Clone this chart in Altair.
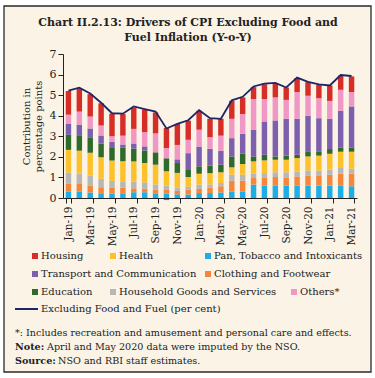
import altair as alt
import pandas as pd

months = ["Jan-19", "Feb-19", "Mar-19", "Apr-19", "May-19", "Jun-19", "Jul-19", "Aug-19", "Sep-19",
          "Oct-19", "Nov-19", "Dec-19", "Jan-20", "Feb-20", "Mar-20", "Apr-20", "May-20", "Jun-20",
          "Jul-20", "Aug-20", "Sep-20", "Oct-20", "Nov-20", "Dec-20", "Jan-21", "Feb-21", "Mar-21"]

pan = [.32, .32, .27, .23, .22, .23, .28, .28, .23, .22, .18, .17, .24, .24, .27, .32, .32, .65, .61, .61, .61, .61, .60, .60, .60, .61, .57]
clothing = [.39, .39, .34, .29, .27, .28, .19, .17, .17, .20, .17, .23, .20, .26, .30, .52, .52, .32, .39, .41, .39, .44, .50, .50, .53, .57, .61]
household = [.53, .48, .49, .41, .34, .30, .32, .31, .26, .18, .15, .15, .21, .16, .16, .29, .29, .21, .21, .23, .25, .24, .24, .23, .25, .28, .24]
health = [1.10, 1.11, 1.10, 1.05, .99, .98, .99, .94, .96, .70, .72, .47, .53, .55, .52, .36, .52, .60, .62, .61, .61, .65, .68, .73, .77, .79, .83]
education = [.73, .75, .72, .67, .65, .67, .62, .61, .60, .63, .48, .38, .36, .36, .37, .53, .50, .24, .27, .16, .20, .16, .25, .21, .23, .21, .21]
transport = [.53, .52, .46, .39, .27, .14, .25, .20, .0, -.10, .18, .78, .96, .82, .68, .89, .97, 1.30, 1.62, 1.75, 1.79, 1.75, 1.73, 1.61, 1.47, 1.78, 1.99]
others = [.45, .63, .58, .49, .26, .43, .71, .69, .92, .50, .70, .65, .82, .57, .73, .94, .96, 1.49, 1.09, 1.12, .92, 1.30, .97, .97, .87, 1.02, .70]
housing = [1.15, 1.13, 1.09, 1.07, 1.10, 1.05, 1.04, 1.10, 1.02, .97, 1.02, .93, .92, .89, .82, .87, .81, .58, .72, .69, .60, .68, .66, .65, .75, .69, .76]
core = [5.22, 5.36, 5.08, 4.63, 4.12, 4.10, 4.45, 4.32, 4.20, 3.38, 3.60, 3.78, 4.27, 3.88, 3.85, 4.75, 4.92, 5.42, 5.56, 5.60, 5.37, 5.85, 5.65, 5.52, 5.47, 5.98, 5.93]

series_names = ["Pan, Tobacco and Intoxicants", "Clothing and Footwear", "Household Goods and Services",
                "Health", "Education", "Transport and Communication", "Others*", "Housing"]
series_values = [pan, clothing, household, health, education, transport, others, housing]
series_colors = ["#1DAEE5", "#F5863A", "#B7B7B7", "#FDC12A", "#2E6A2C", "#7C60AD", "#F197C5", "#D62D27"]
line_name = "Excluding Food and Fuel (per cent)"
title_lines = ["Chart II.2.13: Drivers of CPI Excluding Food and", "Fuel Inflation (Y-o-Y)"]
y_title = ["Contribution in", "percentage points"]
y_ticks = [0, 1, 2, 3, 4, 5, 6, 7]
note_lines = [("*: Includes recreation and amusement and personal care and effects.", ""),
              ("Note:", " April and May 2020 data were imputed by the NSO."),
              ("Source:", " NSO and RBI staff estimates.")]

FONT = "DejaVu Serif"
BG = "#FAF3E6"
NAVY = "#1F2565"

rows = []
for i, m in enumerate(months):
    for k, (name, vals) in enumerate(zip(series_names, series_values)):
        rows.append({"month": m, "cat": name, "val": vals[i], "ord": k})
df = pd.DataFrame(rows)
line_df = pd.DataFrame({"month": months, "core": core})

one = alt.Data(values=[{"a": 1}])

# frame (plot origin at page (63, 54))
frame = alt.Chart(one).mark_rect(fill=BG, stroke="#2a2a2a", strokeWidth=1.3).encode(
    x=alt.value(-59), x2=alt.value(308), y=alt.value(-48), y2=alt.value(318))

layers = [frame]

for j, t in enumerate(title_lines):
    layers.append(alt.Chart(one).mark_text(text=t, font=FONT, fontSize=11, fontWeight="bold",
                                           color="#222", baseline="middle", align="center").encode(
        x=alt.value(125), y=alt.value(-31 + j * 14.5)))

x_axis = alt.Axis(values=months[::2], labelAngle=270, tickBand="extent", title=None,
                  labelFont=FONT, labelFontSize=10.5, labelColor="#222", labelPadding=3,
                  tickSize=5, tickColor="#222", domainColor="#222", grid=False, zindex=2,
                  labelOverlap=False)
y_axis = alt.Axis(values=y_ticks, title=y_title, titleFont=FONT, titleFontSize=10,
                  titleFontWeight="normal", titleColor="#222", titleLineHeight=12, titlePadding=6,
                  labelFont=FONT, labelFontSize=11, labelColor="#222", labelPadding=2,
                  tickSize=5, tickColor="#222", domainColor="#222", grid=False, zindex=2,
                  labelOverlap=False, labelFlush=False, tickCount=8)

x_scale = alt.Scale(paddingInner=0.5, paddingOuter=0.25)
y_scale = alt.Scale(domain=[0, 7], nice=False)

bars = alt.Chart(df).mark_bar().encode(
    x=alt.X("month:N", sort=months, axis=x_axis, scale=x_scale),
    y=alt.Y("val:Q", stack="zero", axis=y_axis, scale=y_scale),
    color=alt.Color("cat:N", scale=alt.Scale(domain=series_names, range=series_colors), legend=None),
    order=alt.Order("ord:Q"))
layers.append(bars)

line = alt.Chart(line_df).mark_line(color=NAVY, strokeWidth=1.8).encode(
    x=alt.X("month:N", sort=months, axis=x_axis, scale=x_scale),
    y=alt.Y("core:Q", axis=y_axis, scale=y_scale))
layers.append(line)

# legend layout: (series index, square x on page, row)
legend_layout = [(7, 32, 0), (3, 110, 0), (0, 205, 0),
                 (5, 32, 1), (1, 205, 1),
                 (4, 32, 2), (2, 110, 2), (6, 291, 2)]
row_y = [256, 274, 292]
for idx, px, r in legend_layout:
    gy = row_y[r] - 54
    layers.append(alt.Chart(one).mark_square(size=36, opacity=1, color=series_colors[idx]).encode(
        x=alt.value(px + 3 - 63), y=alt.value(gy)))
    layers.append(alt.Chart(one).mark_text(text=series_names[idx], font=FONT, fontSize=10,
                                           color="#222", align="left", baseline="middle").encode(
        x=alt.value(px + 9 - 63), y=alt.value(gy)))

ly = 309 - 54
layers.append(alt.Chart(one).mark_rule(color=NAVY, strokeWidth=2).encode(
    x=alt.value(15 - 63), x2=alt.value(38 - 63), y=alt.value(ly)))
layers.append(alt.Chart(one).mark_text(text=line_name, font=FONT, fontSize=10, color="#222",
                                       align="left", baseline="middle").encode(
    x=alt.value(41 - 63), y=alt.value(ly)))

note_offsets = [0, 32, 43]
for j, (bold, rest) in enumerate(note_lines):
    ny = 333 - 54 + j * 14
    layers.append(alt.Chart(one).mark_text(text=bold, font=FONT, fontSize=9.6,
                                           fontWeight="bold" if j > 0 else "normal", color="#222",
                                           align="left", baseline="middle").encode(
        x=alt.value(15 - 63), y=alt.value(ny)))
    if rest:
        layers.append(alt.Chart(one).mark_text(text=rest, font=FONT, fontSize=9.6, color="#222",
                                               align="left", baseline="middle").encode(
            x=alt.value(15 + note_offsets[j] - 63), y=alt.value(ny)))

chart = alt.layer(*layers).properties(
    width=294, height=144,
    autosize=alt.AutoSizeParams(type="none"),
    padding={"left": 63, "top": 54, "right": 18, "bottom": 180},
    background="white",
).configure_view(stroke=None)

chart.save("out.html", embed_options={"renderer": "svg", "actions": False})
